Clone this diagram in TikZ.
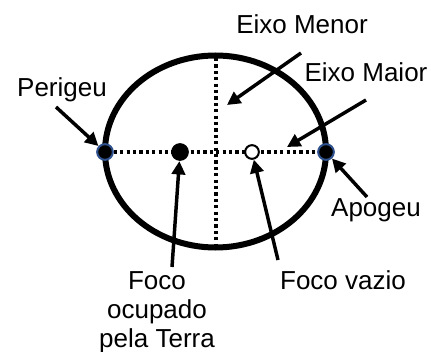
\documentclass[tikz,border=0pt]{standalone}
\usepackage{fontspec}
\setmainfont{Liberation Sans}
\usetikzlibrary{arrows.meta}
\definecolor{apsisblue}{RGB}{47,82,143}

\begin{document}
\begin{tikzpicture}[x=0.75pt,y=-0.75pt,
    pointer/.style={line width=2.6pt,-{Triangle[length=10pt,width=10pt]}},
    axisline/.style={line width=2.4pt,dash pattern=on 2.4pt off 2.4pt},
    apsis/.style={circle,fill=black,draw=apsisblue,line width=1.5pt,inner sep=0pt,minimum size=11.8pt},
    lbl/.style={font=\fontsize{19.5}{21.75}\selectfont,inner sep=0pt,anchor=base,align=center}]
    \useasboundingbox (0,0) rectangle (431,352);
    % orbit and axes
    \coordinate (Centre) at (215.5,151.5);
    \draw[line width=4.5pt] (Centre) ellipse [x radius=110.5, y radius=96];
    \coordinate (MinorTop) at (216,58);
    \coordinate (MinorBottom) at (216,244);
    \draw[axisline] (MinorTop) -- (MinorBottom);
    \node[apsis] (Peri) at (105,152) {};
    \node[apsis] (Apo) at (326,152) {};
    \draw[axisline] (Peri) -- (Apo);
    \node[circle,fill=black,inner sep=0pt,minimum size=13.3pt] (Earth) at (180,152) {};
    \node[circle,draw=black,fill=white,line width=1.5pt,inner sep=0pt,minimum size=10.3pt] (Empty) at (252,152) {};
    % labels
    \node[lbl] (MinorLbl) at (302,34) {Eixo Menor};
    \node[lbl] (MajorLbl) at (366,82) {Eixo Maior};
    \node[lbl] (PeriLbl) at (62,97) {Perigeu};
    \node[lbl] (ApoLbl) at (376,217) {Apogeu};
    \node[lbl] (EarthLbl) at (157,347) {Foco\\ocupado\\pela Terra};
    \node[lbl] (EmptyLbl) at (343,289) {Foco vazio};
    % pointers
    \coordinate (MinorTail) at (301,53);
    \coordinate (MinorTip) at (227,105);
    \coordinate (MajorTail) at (366,100);
    \coordinate (MajorTip) at (287,147);
    \coordinate (PeriTail) at (56,107);
    \coordinate (ApoTail) at (367,197);
    \coordinate (EarthTail) at (172,267);
    \coordinate (EmptyTail) at (278,260);
    \draw[pointer] (MinorTail) -- (MinorTip);
    \draw[pointer] (MajorTail) -- (MajorTip);
    \draw[pointer] (PeriTail) -- (Peri);
    \draw[pointer] (ApoTail) -- (Apo);
    \draw[pointer] (EarthTail) -- (Earth);
    \draw[pointer] (EmptyTail) -- (Empty);
\end{tikzpicture}
\end{document}
